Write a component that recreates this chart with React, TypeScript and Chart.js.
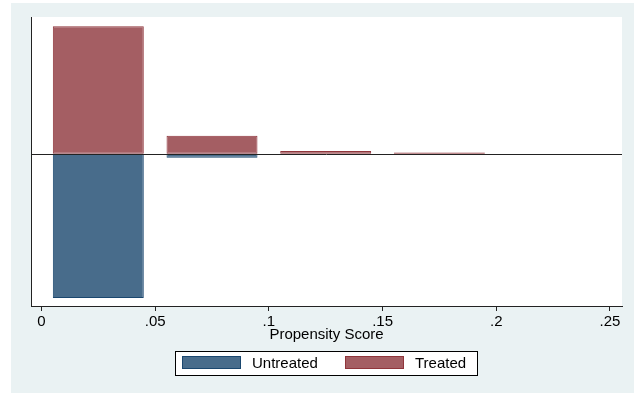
import React, { useEffect, useRef } from "react";
import Chart from "chart.js/auto";

// ---- data ----
const binCenters = [0.025, 0.075, 0.125, 0.175];
const untreated: (number | null)[] = [-0.972, -0.027, null, null];
const treated: number[] = [0.857, 0.121, 0.018, 0.008];
const xTicks = [0, 0.05, 0.1, 0.15, 0.2, 0.25];
const xTickLabels = ["0", ".05", ".1", ".15", ".2", ".25"];
const seriesNames = ["Untreated", "Treated"];
const xTitle = "Propensity Score";

const FONT = "'Liberation Sans', Arial, sans-serif";
const BLUE_FILL = "rgb(72,108,139)";
const BLUE_LINE = "rgb(26,71,111)";
const RED_FILL = "rgb(164,94,99)";
const RED_LINE = "rgb(144,53,59)";
const BG = "rgb(234,242,243)";

const backgroundPlugin = {
  id: "stataBg",
  beforeDraw(chart: any) {
    const { ctx, width, height, chartArea } = chart;
    ctx.save();
    ctx.fillStyle = "#ffffff";
    ctx.fillRect(0, 0, width, height);
    ctx.fillStyle = BG;
    ctx.fillRect(11, 3, width - 11, height - 4);
    ctx.fillStyle = "#ffffff";
    ctx.fillRect(chartArea.left, chartArea.top, chartArea.right - chartArea.left, chartArea.bottom - chartArea.top);
    ctx.restore();
  },
  afterDatasetsDraw(chart: any) {
    const { ctx, chartArea, scales } = chart;
    const y0 = Math.round(scales.y.getPixelForValue(0)) + 0.5;
    ctx.save();
    ctx.strokeStyle = "#222";
    ctx.lineWidth = 1;
    ctx.beginPath();
    ctx.moveTo(chartArea.left, y0);
    ctx.lineTo(chartArea.right, y0);
    ctx.stroke();
    // left axis line
    const lx = Math.round(chartArea.left) + 0.5;
    ctx.beginPath();
    ctx.moveTo(lx, chartArea.top);
    ctx.lineTo(lx, chartArea.bottom);
    ctx.stroke();
    ctx.restore();
  },
  afterDraw(chart: any) {
    const { ctx } = chart;
    ctx.save();
    // legend box
    ctx.fillStyle = "#ffffff";
    ctx.fillRect(175, 351, 302, 24);
    ctx.strokeStyle = "#000";
    ctx.lineWidth = 1;
    ctx.strokeRect(175.5, 351.5, 302, 24);
    const items = [
      { name: seriesNames[0], fill: BLUE_FILL, line: BLUE_LINE, sx: 182, tx: 252 },
      { name: seriesNames[1], fill: RED_FILL, line: RED_LINE, sx: 345, tx: 415 },
    ];
    ctx.font = `15px ${FONT}`;
    ctx.textBaseline = "middle";
    ctx.textAlign = "left";
    for (const it of items) {
      ctx.fillStyle = it.fill;
      ctx.fillRect(it.sx, 356, 59, 13);
      ctx.strokeStyle = it.line;
      ctx.strokeRect(it.sx + 0.5, 356.5, 58, 12);
      ctx.fillStyle = "#000";
      ctx.fillText(it.name, it.tx, 364);
    }
    ctx.restore();
  },
};

export default function App() {
  const ref = useRef<HTMLCanvasElement | null>(null);
  useEffect(() => {
    if (!ref.current) return;
    const chart = new Chart(ref.current, {
      type: "bar",
      data: {
        datasets: [
          {
            label: seriesNames[0],
            data: binCenters.map((x, i) => ({ x, y: untreated[i] })) as any,
            backgroundColor: BLUE_FILL,
            borderColor: BLUE_LINE,
            borderWidth: 1,
            borderSkipped: false,
            grouped: false,
            barPercentage: 0.8,
            categoryPercentage: 1,
          } as any,
          {
            label: seriesNames[1],
            data: binCenters.map((x, i) => ({ x, y: treated[i] })) as any,
            backgroundColor: RED_FILL,
            borderColor: RED_LINE,
            borderWidth: 1,
            borderSkipped: false,
            grouped: false,
            barPercentage: 0.8,
            categoryPercentage: 1,
          } as any,
        ],
      },
      options: {
        responsive: false,
        animation: false,
        devicePixelRatio: 1,
        layout: { padding: { left: 31, top: 17, right: 12, bottom: 0 } },
        plugins: { legend: { display: false }, tooltip: { enabled: false } },
        scales: {
          x: {
            type: "linear",
            offset: false,
            min: -0.0046,
            max: 0.2553,
            afterBuildTicks: (scale: any) => {
              scale.ticks = xTicks.map((v) => ({ value: v }));
            },
            afterFit: (scale: any) => {
              scale.height = 88;
            },
            ticks: {
              autoSkip: false,
              maxRotation: 0,
              padding: 2,
              color: "#000",
              font: { family: FONT, size: 15 },
              callback: (_v: any, i: number) => xTickLabels[i],
            },
            grid: {
              display: true,
              offset: false,
              drawOnChartArea: false,
              drawTicks: true,
              tickLength: 5,
              color: "#222",
            },
            border: { display: true, color: "#222", width: 1 },
            title: {
              display: true,
              text: xTitle,
              color: "#000",
              font: { family: FONT, size: 15 },
              padding: { top: 0, bottom: 50 },
            },
          },
          y: {
            display: false,
            min: -1.026,
            max: 0.92,
          },
        },
      },
      plugins: [backgroundPlugin],
    } as any);
    return () => chart.destroy();
  }, []);
  return (
    <div style={{ position: "fixed", left: 0, top: 0, width: 634, height: 394 }}>
      <canvas ref={ref} width={634} height={394} />
    </div>
  );
}
